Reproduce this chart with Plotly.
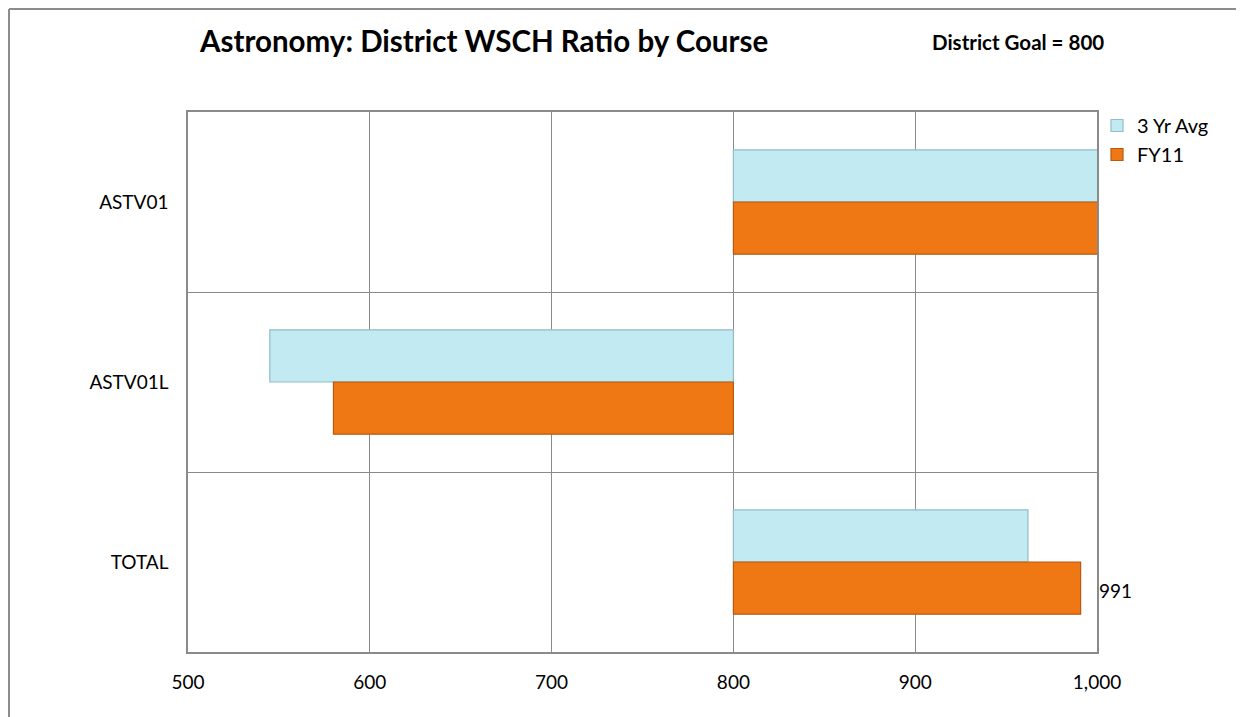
import plotly.graph_objects as go

categories = ["ASTV01", "ASTV01L", "TOTAL"]
avg3yr = [1200, 545, 962]
fy11 = [1250, 580, 991]
goal = 800
x_ticks = [500, 600, 700, 800, 900, 1000]
label_texts = ["", "", "991"]

FONT = "Lato, 'Open Sans', sans-serif"
GRID = "#8a8a8a"

# page body adds an 8px offset; figure is sized to fit the window
W, H = 1236, 709
L, T, R, B = 180, 104, 147, 65
PW = W - L - R
PH = H - T - B

fig = go.Figure()
fig.add_trace(go.Bar(
    name="3 Yr Avg", y=categories, x=[v - goal for v in avg3yr], base=goal,
    orientation="h",
    marker=dict(color="#C2EAF3", line=dict(color="#93BCC6", width=1.2)),
))
fig.add_trace(go.Bar(
    name="FY11", y=categories, x=[v - goal for v in fy11], base=goal,
    orientation="h",
    marker=dict(color="#F07814", line=dict(color="#B65A12", width=1.2)),
))

# data label for TOTAL FY11
for i, t in enumerate(label_texts):
    if t:
        fig.add_annotation(x=fy11[i], y=categories[i], text=t, showarrow=False,
                           xanchor="left", xshift=16, yshift=-28,
                           font=dict(family=FONT, size=19, color="#000"),
                           xref="x", yref="y")

fig.update_layout(
    width=W, height=H,
    margin=dict(l=L, r=R, t=T, b=B),
    paper_bgcolor="white", plot_bgcolor="white",
    barmode="group", bargap=0.42, bargroupgap=0.0,
    font=dict(family=FONT, color="#000"),
    title=dict(text="<b>Astronomy: District WSCH Ratio by Course</b>",
               x=192/W, xanchor="left", xref="container",
               y=1-34/H, yanchor="middle",
               font=dict(family=FONT, size=29.5, color="#000")),
    legend=dict(x=1.0, xanchor="left", y=1+(T-98)/PH, yanchor="top",
                font=dict(family=FONT, size=20, color="#000"),
                bgcolor="rgba(0,0,0,0)", traceorder="normal"),
    showlegend=True,
)

fig.add_annotation(text="<b>District Goal = 800</b>", xref="paper", yref="paper",
                   x=(922-L)/PW, y=1+(T-34)/PH, xanchor="left", yanchor="middle",
                   showarrow=False, font=dict(family=FONT, size=20.5, color="#000"))

fig.update_xaxes(range=[500, 1000], tickvals=x_ticks, tickformat=",d",
                 showgrid=True, gridcolor=GRID, gridwidth=1.3,
                 showline=True, linecolor=GRID, linewidth=1.5, mirror=True,
                 ticks="", ticklabelstandoff=12, zeroline=False,
                 tickfont=dict(family=FONT, size=19, color="#000"))
fig.update_yaxes(type="category", autorange="reversed", tickson="boundaries",
                 showgrid=True, gridcolor=GRID, gridwidth=1.3,
                 showline=True, linecolor=GRID, linewidth=1.5, mirror=True,
                 ticks="", ticklabelstandoff=14,
                 tickfont=dict(family=FONT, size=19, color="#000"))

# outer chart frame (left and top edges)
fx = (1 - L) / PW
fy = 1 + (T - 1) / PH
fig.add_shape(type="line", xref="paper", yref="paper", x0=fx, x1=fx, y0=fy, y1=-0.3,
              line=dict(color="#8c8c8c", width=2))
fig.add_shape(type="line", xref="paper", yref="paper", x0=fx, x1=1.4, y0=fy, y1=fy,
              line=dict(color="#8c8c8c", width=2))

fig.write_html("out.html")
